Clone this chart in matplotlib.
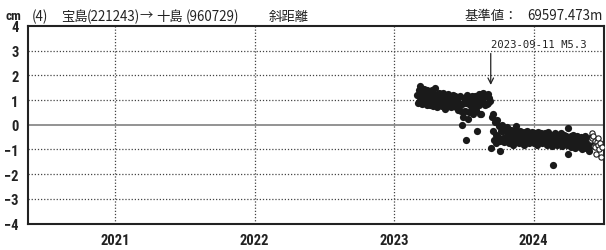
import matplotlib
matplotlib.use("Agg")
import matplotlib.pyplot as plt
from matplotlib import font_manager as fm
import pandas as pd

# ---------------- data ----------------
pre_values = [
    1.20, 0.90, 1.40, 1.55, 1.00, 1.30, 0.85, 1.15, 1.45, 0.95, 1.25, 1.05, 1.40, 0.80, 1.20,
    1.00, 1.35, 0.80, 1.10, 1.40, 0.75, 0.95, 1.25, 1.50, 0.85, 1.15, 0.70, 1.05, 1.30, 0.80,
    0.95, 1.25, 0.75, 1.05, 1.30, 0.85, 0.65, 1.15, 0.80, 1.00, 1.25, 0.75, 0.90, 1.15, 0.70,
    0.95, 1.20, 0.75, 0.90, 1.15, 0.70, 0.95, 1.10, 0.60, 0.90, 0.80, 1.15, 0.55, 0.85, 0.00,
    0.30, 1.10, 0.55, -0.60, 0.90, 1.20, 0.25, 0.85, 0.50, 1.05, 0.75, 1.15, 0.65, 0.42, 0.95,
    0.80, 1.15, 0.60, -0.25, 0.95, 1.25, 0.80, 0.45, 0.42, 1.25, 1.05, 1.30, 0.90, 1.20, 0.80,
    1.15, 0.85, 1.25, 0.90, 1.10, 0.95,
]
post_values = [
    -0.93, 0.30, -0.25, 0.45, -0.60, 0.10, -0.40, -0.75, 0.20, -0.50,
    -0.05, -0.65, -1.07, -0.25, 0.00, -0.55, -0.25, -0.70, -0.15, -0.50, -0.60, -0.10, -0.40, -0.75, -0.30,
    -0.55, -0.20, -0.65, -0.40, -0.80, -0.25, -0.60, -0.45, -0.05, -0.70, -0.30, -0.55, -0.75, -0.25, -0.45,
    -0.65, -0.30, -0.55, -0.80, -0.30, -0.50, -0.70, -0.25, -0.60, -0.40, -0.75, -0.35, -0.65, -0.50, -0.30,
    -0.60, -0.75, -0.35, -0.65, -0.40, -0.80, -0.50, -0.30, -0.70, -0.55, -0.35, -0.75, -0.45, -0.65, -0.40,
    -0.70, -0.35, -0.55, -0.80, -0.45, -0.30, -0.65, -0.75, -0.40, -0.60, -0.85, -1.65, -0.45, -0.70, -0.35,
    -0.65, -0.80, -0.40, -0.55, -0.75, -0.45, -0.35, -0.70, -0.85, -0.50, -0.40, -0.75, -0.60, -0.45, -0.80,
    -0.15, -1.20, -0.55, -0.75, -0.45, -0.90, -0.60, -0.40, -0.80, -0.65, -0.95, -0.50, -0.75, -0.45, -0.85,
    -0.65, -0.90, -0.50, -0.80, -1.00, -0.60, -0.85, -0.70, -0.45, -0.95, -0.65, -0.90, -0.75, -1.05, -0.55, -0.85, -0.70,
]
open_values = [-0.60, -0.32, -0.55, -0.45, -0.85, -0.65, -0.90, -1.17, -0.70, -0.80, -0.54, -1.00, -0.75, -1.30, -0.90]

pre_dates = pd.date_range("2023-03-03", periods=len(pre_values), freq="2D")
post_dates = pd.date_range("2023-09-12", periods=len(post_values), freq="2D")
open_dates = pd.date_range("2024-05-30", periods=len(open_values), freq="2D")

year_ticks = ["2021-01-01", "2022-01-01", "2023-01-01", "2024-01-01"]
year_labels = ["2021", "2022", "2023", "2024"]
y_ticks = [-4, -3, -2, -1, 0, 1, 2, 3, 4]
quake_date = "2023-09-11"
quake_label = "2023-09-11 M5.3"
unit_text = "cm"
# title pieces and their left edges (px)
title_pieces = ["(4)", "宝島", "(221243)", "→", "十島", "(960729)", "斜距離"]
title_x = [32, 61, 87, 139, 156, 186, 269]
ref_label = "基準値："
ref_value = "69597.473m"

# ---------------- fonts ----------------
names = {f.name for f in fm.fontManager.ttflist}
tick_family = None
tick_stretch = "normal"
for cand in ["Liberation Sans Narrow", "Arial Narrow", "Nimbus Sans Narrow",
             "Roboto Condensed", "Open Sans Condensed", "DejaVu Sans Condensed"]:
    if cand in names:
        tick_family = cand
        break
if tick_family is None:
    if any(f.name == "DejaVu Sans" and f.stretch not in ("normal", 500) for f in fm.fontManager.ttflist):
        tick_family = "DejaVu Sans"
        tick_stretch = "condensed"
    else:
        tick_family = "Liberation Sans" if "Liberation Sans" in names else "DejaVu Sans"
tickfont = [tick_family, "DejaVu Sans"]
narrow = tick_family != "Liberation Sans" and tick_family != "DejaVu Sans" or tick_stretch == "condensed"
tick_size = 10.5 if narrow else 9
cjk = ["Noto Sans CJK JP", "DejaVu Sans"]
title_size = 9.6

# ---------------- figure ----------------
W, H = 606, 251
fig = plt.figure(figsize=(W / 100, H / 100), dpi=100)
ax = fig.add_axes([28.2 / W, 26.5 / H, 575.6 / W, 197.5 / H])

ax.set_xlim(pd.Timestamp("2020-05-18"), pd.Timestamp("2024-07-03"))
ax.set_ylim(-4, 4)

for t in year_ticks:
    ax.axvline(pd.Timestamp(t), color="#444444", lw=0.9, ls=(0, (1, 1.5)), zorder=1)
for v in y_ticks:
    if v in (-4, 4):
        continue
    if v == 0:
        ax.axhline(0, color="#808080", lw=1.2, zorder=1)
    else:
        ax.axhline(v, color="#444444", lw=0.9, ls=(0, (1, 1.5)), zorder=1)

ms = 5.2
ax.plot(pre_dates, pre_values, "o", color="#1a1a1a", ms=ms, mew=0, zorder=3)
ax.plot(post_dates, post_values, "o", color="#1a1a1a", ms=ms, mew=0, zorder=3)
ax.plot(open_dates, open_values, "o", mfc="white", mec="#1a1a1a", ms=3.8, mew=0.8, zorder=4)

ax.annotate("", xy=(pd.Timestamp(quake_date), 1.5), xytext=(pd.Timestamp(quake_date), 3.0),
            arrowprops=dict(arrowstyle="->", color="#222222", lw=0.9, mutation_scale=10), zorder=5)
ax.text(pd.Timestamp(quake_date), 3.05, quake_label, ha="left", va="bottom",
        fontsize=7.6, family=["DejaVu Sans Mono"], color="#222222", zorder=5)

ax.set_xticks([pd.Timestamp(t) for t in year_ticks])
ax.set_xticklabels(year_labels)
ax.set_yticks(y_ticks)
ax.set_yticklabels([str(v).replace("-", "\u2212") for v in y_ticks])
ax.tick_params(axis="both", length=0, labelsize=tick_size)
ax.tick_params(axis="x", pad=7)
ax.tick_params(axis="y", pad=7)
for lab in ax.get_xticklabels() + ax.get_yticklabels():
    lab.set_family(tickfont)
    lab.set_fontweight("bold")
    lab.set_fontstretch(tick_stretch)
    lab.set_color("#222222")

for s in ax.spines.values():
    s.set_linewidth(1.5)
    s.set_color("#222222")

fig.text(13 / W, 1 - 16.5 / H, unit_text, ha="center", va="center", fontsize=tick_size - 1,
         family=tickfont, fontweight="bold", fontstretch=tick_stretch, color="#222222")
for piece, px in zip(title_pieces, title_x):
    fig.text(px / W, 1 - 16.5 / H, piece, ha="left", va="center", fontsize=title_size,
             family=cjk, color="#222222")
fig.text(464 / W, 1 - 16.5 / H, ref_label, ha="left", va="center", fontsize=title_size,
         family=cjk, color="#222222")
fig.text(527 / W, 1 - 16.5 / H, ref_value, ha="left", va="center", fontsize=title_size,
         family=cjk, color="#222222")

fig.savefig("out.png", dpi=100)
